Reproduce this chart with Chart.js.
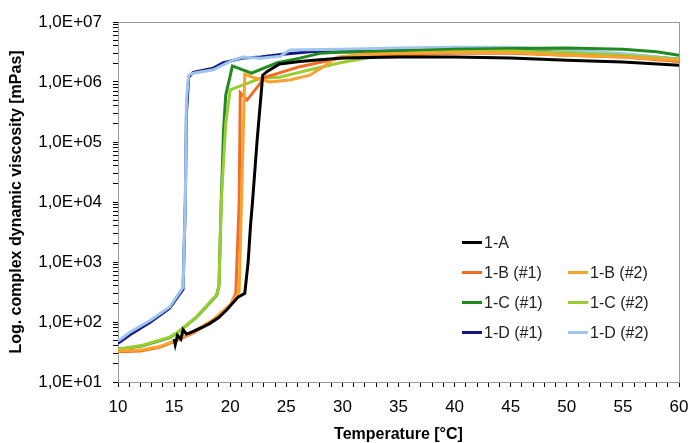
<!DOCTYPE html>
<html>
<head>
<meta charset="utf-8">
<script src="https://cdn.jsdelivr.net/npm/chart.js@4"></script>
<style>
  body { margin: 0; background: #fff; }
  #wrap { position: relative; width: 691px; height: 443px; }
  #legend { position: absolute; left: 0; top: 0; font: 16px "Liberation Sans", Arial, sans-serif; color: #222; }
  .item { position: absolute; white-space: nowrap; line-height: 18px; }
  .item span.sw { display: inline-block; width: 20px; height: 3px; vertical-align: middle; margin-right: 2px; position: relative; top: -1px; }
</style>
</head>
<body>
<div id="wrap">
  <canvas id="viscChart"></canvas>
  <div id="legend"></div>
</div>
<script>
// Data (temperature in °C, viscosity in mPas)
const seriesNames = ['1-A', '1-B (#1)', '1-B (#2)', '1-C (#1)', '1-C (#2)', '1-D (#1)', '1-D (#2)'];
const seriesColors = ['#000000', '#f26c22', '#f9a230', '#1f8a1f', '#9acd32', '#14167e', '#9fc5ee'];

const tempA = [15.0, 15.1, 15.3, 15.6, 15.8, 16.1, 16.4, 17.0, 17.6, 18.2, 19.0, 19.7, 20.7, 21.3, 21.6, 21.8, 22.0, 22.4, 22.9, 23.3, 24.4, 26.2, 28, 30, 35, 40, 45, 50, 55, 60];
const viscA = [52, 42, 60, 52, 74, 63, 66, 74, 83, 95, 120, 160, 260, 300, 1000, 3800, 1.07e4, 1.07e5, 1.3e6, 1.5e6, 2.0e6, 2.2e6, 2.35e6, 2.5e6, 2.6e6, 2.6e6, 2.5e6, 2.3e6, 2.15e6, 1.9e6];

const tempB1 = [10, 12, 13.7, 15, 16.7, 18.5, 20, 20.5, 20.8, 20.9, 21.5, 23.1, 26.2, 29.8, 35.1, 40, 45, 50, 55, 60];
const viscB1 = [32, 33, 38, 47, 66, 107, 190, 300, 1.0e4, 6.6e5, 5.0e5, 1.2e6, 1.8e6, 2.5e6, 2.8e6, 3.0e6, 3.0e6, 2.8e6, 2.6e6, 2.2e6];

const tempB2 = [10, 12, 13.7, 15, 16.7, 18.5, 20, 20.8, 21.1, 21.3, 22.0, 23.5, 25.3, 27.1, 28.5, 29.5, 32, 40, 45, 50, 55, 60];
const viscB2 = [33, 34, 39, 48, 68, 110, 195, 320, 5e4, 1.35e6, 1.2e6, 1.0e6, 1.08e6, 1.3e6, 1.9e6, 2.6e6, 2.9e6, 3.1e6, 3.1e6, 2.8e6, 2.6e6, 2.3e6];

const tempC1 = [10, 12.2, 14.6, 15.3, 17, 18.8, 19.0, 19.2, 19.4, 19.6, 20.2, 21.9, 24.2, 26.2, 28, 29.2, 35, 40, 45, 50, 55, 58, 60];
const viscC1 = [35, 40, 55, 66, 120, 280, 400, 1e4, 1.5e5, 6e5, 1.85e6, 1.4e6, 2.1e6, 2.5e6, 3.0e6, 3.1e6, 3.3e6, 3.5e6, 3.6e6, 3.7e6, 3.5e6, 3.2e6, 2.8e6];

const tempC2 = [10, 12.2, 14.6, 15.3, 17, 18.8, 19.0, 19.2, 19.6, 20.0, 22.7, 24.4, 27.1, 29.8, 32.7, 35.1, 40, 45, 50, 55, 60];
const viscC2 = [35, 41, 56, 67, 122, 285, 400, 1e4, 2e5, 7.4e5, 1.15e6, 1.2e6, 1.6e6, 2.1e6, 2.6e6, 3.0e6, 3.2e6, 3.3e6, 3.1e6, 2.8e6, 2.4e6];

const tempD1 = [10, 11.1, 12.9, 14.6, 15.8, 16.0, 16.1, 16.3, 16.7, 18.5, 19.4, 21.1, 22.7, 24.7, 27.1, 30, 35, 40, 45, 50, 55, 60];
const viscD1 = [44, 62, 100, 170, 350, 1e4, 3e5, 1.2e6, 1.45e6, 1.7e6, 2.1e6, 2.5e6, 2.6e6, 2.9e6, 3.2e6, 3.3e6, 3.5e6, 3.5e6, 3.5e6, 3.2e6, 2.9e6, 2.4e6];

const tempD2 = [10, 11.1, 12.9, 14.6, 15.8, 16.0, 16.1, 16.3, 16.7, 18.5, 20, 21.1, 22.7, 24.5, 25.3, 30, 35, 40, 45, 50, 55, 60];
const viscD2 = [48, 68, 107, 178, 380, 1e4, 5e5, 1.3e6, 1.4e6, 1.6e6, 2.2e6, 2.6e6, 2.5e6, 2.7e6, 3.4e6, 3.5e6, 3.7e6, 3.8e6, 3.8e6, 3.4e6, 3.0e6, 2.4e6];

const xTickLabels = [10, 15, 20, 25, 30, 35, 40, 45, 50, 55, 60];
const yTickLabels = ['1,0E+01', '1,0E+02', '1,0E+03', '1,0E+04', '1,0E+05', '1,0E+06', '1,0E+07'];

const temps = [tempA, tempB1, tempB2, tempC1, tempC2, tempD1, tempD2];
const viscs = [viscA, viscB1, viscB2, viscC1, viscC2, viscD1, viscD2];
// lower order is drawn on top
const drawOrder = [0, 3, 2, 5, 4, 6, 5];

const FONT = '"Liberation Sans", Arial, sans-serif';

function toPoints(t, v) {
  return t.map((x, i) => ({ x: x, y: v[i] }));
}

// gray box round the plot area (top and right edges show)
const plotBox = {
  id: 'plotBox',
  beforeDatasetsDraw(chart) {
    const a = chart.chartArea;
    const ctx = chart.ctx;
    ctx.save();
    ctx.strokeStyle = '#9a9a9a';
    ctx.lineWidth = 1;
    ctx.strokeRect(a.left + 0.5, a.top + 0.5, a.right - a.left, a.bottom - a.top);
    ctx.restore();
  }
};

const ctx = document.getElementById('viscChart');
const chart = new Chart(ctx, {
  type: 'line',
  data: {
    datasets: seriesNames.map((name, i) => ({
      label: name,
      data: toPoints(temps[i], viscs[i]),
      borderColor: seriesColors[i],
      backgroundColor: seriesColors[i],
      borderWidth: 3,
      pointRadius: 0,
      tension: 0,
      order: drawOrder[i]
    }))
  },
  options: {
    responsive: true,
    maintainAspectRatio: false,
    animation: false,
    layout: { padding: { top: 22, right: 12, left: 0, bottom: 0 } },
    plugins: {
      legend: { display: false },
      tooltip: { enabled: false }
    },
    scales: {
      x: {
        type: 'linear',
        min: 10,
        max: 60,
        afterFit(scale) {
          scale.height = 61;
          scale.paddingLeft = 0;
          scale.paddingRight = 0;
        },
        border: { color: '#000', width: 1 },
        grid: { drawOnChartArea: false, tickLength: 5, color: '#000' },
        ticks: {
          stepSize: 1,
          autoSkip: false,
          maxRotation: 0,
          padding: 10,
          color: '#000',
          font: { family: FONT, size: 17 },
          callback: v => xTickLabels.includes(v) ? String(v) : ''
        },
        title: {
          display: true,
          text: 'Temperature [°C]',
          color: '#000',
          font: { family: FONT, size: 16, weight: 'bold', lineHeight: 1 },
          padding: { top: 0, bottom: 0 }
        }
      },
      y: {
        type: 'logarithmic',
        min: 10,
        max: 1e7,
        afterFit(scale) { scale.width = 118; },
        afterBuildTicks(scale) {
          const ticks = [];
          for (let e = 1; e <= 7; e++) {
            for (let k = 1; k <= 9; k++) {
              const v = k * Math.pow(10, e);
              if (v <= 1e7) ticks.push({ value: v, major: k === 1 });
            }
          }
          scale.ticks = ticks;
        },
        border: { color: '#000', width: 1 },
        grid: { drawOnChartArea: false, tickLength: 5, color: '#000' },
        ticks: {
          autoSkip: false,
          padding: 11,
          color: '#000',
          font: { family: FONT, size: 17 },
          callback: v => {
            const e = Math.round(Math.log10(v));
            return Math.abs(v - Math.pow(10, e)) < 1e-6 ? yTickLabels[e - 1] : '';
          }
        },
        title: {
          display: true,
          text: 'Log. complex dynamic viscosity [mPas]',
          color: '#000',
          font: { family: FONT, size: 16, weight: 'bold' },
          padding: { top: 7, bottom: 0 }
        }
      }
    }
  },
  plugins: [plotBox]
});

// Legend: 1-A alone, then pairs in two columns
const legendEl = document.getElementById('legend');
chart.data.datasets.forEach((ds, i) => {
  const row = i === 0 ? 0 : Math.ceil(i / 2);
  const col = i === 0 ? 0 : (i - 1) % 2;
  const item = document.createElement('div');
  item.className = 'item';
  item.style.left = (462 + col * 106) + 'px';
  item.style.top = (234 + row * 30) + 'px';
  const sw = document.createElement('span');
  sw.className = 'sw';
  sw.style.background = ds.borderColor;
  item.appendChild(sw);
  item.appendChild(document.createTextNode(ds.label));
  legendEl.appendChild(item);
});
</script>
</body>
</html>
